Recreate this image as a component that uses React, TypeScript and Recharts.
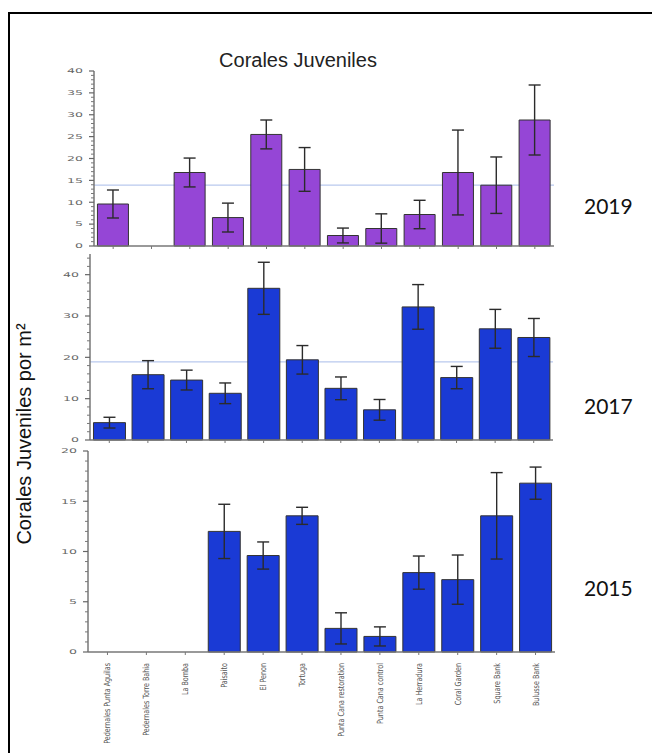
import { BarChart, Bar, XAxis, YAxis, ErrorBar, ReferenceLine } from 'recharts'

// sites, left to right
const sites = [
  'Pedernales Punta Aguilas',
  'Pedernales Torre Bahia',
  'La Bomba',
  'Paisaito',
  'El Penon',
  'Tortuga',
  'Punta Cana restoration',
  'Punta Cana control',
  'La Herradura',
  'Coral Garden',
  'Square Bank',
  'Bulusse Bank',
]

const mean2019 = [9.6, 0, 16.8, 6.5, 25.5, 17.5, 2.4, 4.0, 7.2, 16.8, 13.9, 28.8]
const err2019 = [3.2, 0, 3.3, 3.3, 3.3, 5.0, 1.7, 3.35, 3.25, 9.7, 6.45, 8.0]
const mean2017 = [4.2, 15.8, 14.5, 11.3, 36.7, 19.4, 12.5, 7.3, 32.2, 15.1, 26.9, 24.8]
const err2017 = [1.3, 3.4, 2.4, 2.5, 6.3, 3.45, 2.75, 2.5, 5.4, 2.7, 4.7, 4.6]
const mean2015 = [0, 0, 0, 12.0, 9.6, 13.55, 2.35, 1.55, 7.9, 7.2, 13.55, 16.8]
const err2015 = [0, 0, 0, 2.7, 1.35, 0.85, 1.55, 0.95, 1.65, 2.45, 4.3, 1.6]

// overall mean across sites
const avg2019 = 13.9
const avg2017 = 18.9

const ticks2019 = [0, 5, 10, 15, 20, 25, 30, 35, 40]
const ticks2017 = [0, 10, 20, 30, 40]
const ticks2015 = [0, 5, 10, 15, 20]

const PURPLE = '#9546d6'
const BLUE = '#1a3ad5'

function minorTicks(max: number, step: number) {
  const out: number[] = []
  for (let v = 0; v <= max + 1e-9; v += step) out.push(Math.round(v * 100) / 100)
  return out
}

function rows(mean: number[], err: number[]) {
  return sites.map((site, i) => ({ site, mean: mean[i], err: err[i] }))
}

// eslint-disable-next-line @typescript-eslint/no-explicit-any
function YTick(props: any) {
  const { x, y, payload, major } = props
  const isMajor = major.includes(payload.value)
  if (!isMajor) {
    return <line x1={x - 3} x2={x} y1={y} y2={y} stroke="#777" strokeWidth={1} />
  }
  const label = String(payload.value)
  return (
    <g>
      <line x1={x - 5} x2={x} y1={y} y2={y} stroke="#666" strokeWidth={1.2} />
      <text
        x={x - 11}
        y={y}
        dy="0.36em"
        textAnchor="end"
        fontSize={6.5}
        fill="#666"
        fontFamily="'DejaVu Sans', sans-serif"
        textLength={label.length * 8}
        lengthAdjust="spacingAndGlyphs"
      >
        {label}
      </text>
    </g>
  )
}

// eslint-disable-next-line @typescript-eslint/no-explicit-any
function XTick(props: any) {
  const { x, y, payload, showLabel } = props
  return (
    <g>
      <line x1={x} x2={x} y1={y} y2={y + 3} stroke="#777" strokeWidth={1} />
      {showLabel && (
        <text
          transform={`translate(${x},${y + 11}) rotate(-90) scale(0.84,1)`}
          dy="0.35em"
          textAnchor="end"
          fontSize={8.5}
          fill="#555"
          fontFamily="'Liberation Sans Narrow', 'DejaVu Sans Condensed', sans-serif"
        >
          {payload.value}
        </text>
      )}
    </g>
  )
}

interface PanelProps {
  top: number
  left: number
  right: number
  plotHeight: number
  axisHeight: number
  data: { site: string; mean: number; err: number }[]
  max: number
  major: number[]
  minorStep: number
  color: string
  avg?: number
  labels?: boolean
}

function Panel({ top, left, right, plotHeight, axisHeight, data, max, major, minorStep, color, avg, labels }: PanelProps) {
  const height = 10 + plotHeight + axisHeight
  return (
    <div style={{ position: 'absolute', left: 0, top: top - 10 }}>
      <BarChart
        width={652}
        height={height}
        data={data}
        margin={{ top: 10, right: 652 - right, bottom: 0, left: 0 }}
        barCategoryGap="9%"
      >
        <XAxis
          dataKey="site"
          interval={0}
          height={axisHeight}
          tickSize={0}
          tickMargin={0}
          tickLine={false}
          axisLine={{ stroke: '#777', strokeWidth: 1.5 }}
          tick={<XTick showLabel={labels} />}
        />
        <YAxis
          domain={[0, max]}
          ticks={minorTicks(max, minorStep)}
          interval={0}
          width={left}
          tickSize={0}
          tickMargin={0}
          tickLine={false}
          axisLine={{ stroke: '#777', strokeWidth: 1.5 }}
          tick={<YTick major={major} />}
        />
        {avg !== undefined && (
          // mean line sits behind the bars
          <ReferenceLine y={avg} stroke="#b9c9ee" strokeWidth={1.3} zIndex={-10} />
        )}
        <Bar dataKey="mean" fill={color} stroke="#333" strokeWidth={1} isAnimationActive={false}>
          <ErrorBar dataKey="err" width={6} stroke="#2b2b2b" strokeWidth={1.4} />
        </Bar>
      </BarChart>
    </div>
  )
}

const yearStyle: React.CSSProperties = {
  position: 'absolute',
  left: 584,
  fontFamily: 'Lato, sans-serif',
  fontSize: 21,
  color: '#111',
  lineHeight: '24px',
}

export default function App() {
  return (
    <div
      style={{
        position: 'absolute',
        left: 0,
        top: 0,
        width: 652,
        height: 753,
        overflow: 'hidden',
        background: '#fff',
        fontFamily: "'Liberation Sans', Arial, sans-serif",
      }}
    >
      <div
        style={{
          position: 'absolute',
          left: 8,
          top: 12,
          width: 700,
          height: 800,
          borderTop: '2px solid #000',
          borderLeft: '2px solid #000',
        }}
      />
      <div
        style={{
          position: 'absolute',
          left: 298,
          top: 48,
          transform: 'translateX(-50%)',
          fontSize: 20,
          color: '#222',
          whiteSpace: 'nowrap',
          lineHeight: '24px',
        }}
      >
        Corales Juveniles
      </div>
      <svg style={{ position: 'absolute', left: 0, top: 0 }} width={60} height={753}>
        <text
          transform="translate(24,434) rotate(-90)"
          textAnchor="middle"
          dy="0.35em"
          fontSize={20}
          fill="#111"
          fontFamily="'Liberation Sans', Arial, sans-serif"
        >
          Corales Juveniles por m²
        </text>
      </svg>

      <Panel
        top={71}
        left={94}
        right={554}
        plotHeight={175}
        axisHeight={8}
        data={rows(mean2019, err2019)}
        max={40}
        major={ticks2019}
        minorStep={1}
        color={PURPLE}
        avg={avg2019}
      />
      <Panel
        top={254}
        left={90}
        right={553}
        plotHeight={186}
        axisHeight={8}
        data={rows(mean2017, err2017)}
        max={45}
        major={ticks2017}
        minorStep={2}
        color={BLUE}
        avg={avg2017}
      />
      <Panel
        top={451}
        left={88}
        right={555}
        plotHeight={201}
        axisHeight={100}
        data={rows(mean2015, err2015)}
        max={20}
        major={ticks2015}
        minorStep={1}
        color={BLUE}
        labels
      />

      <div style={{ ...yearStyle, top: 194 }}>2019</div>
      <div style={{ ...yearStyle, top: 394 }}>2017</div>
      <div style={{ ...yearStyle, top: 576 }}>2015</div>
    </div>
  )
}
